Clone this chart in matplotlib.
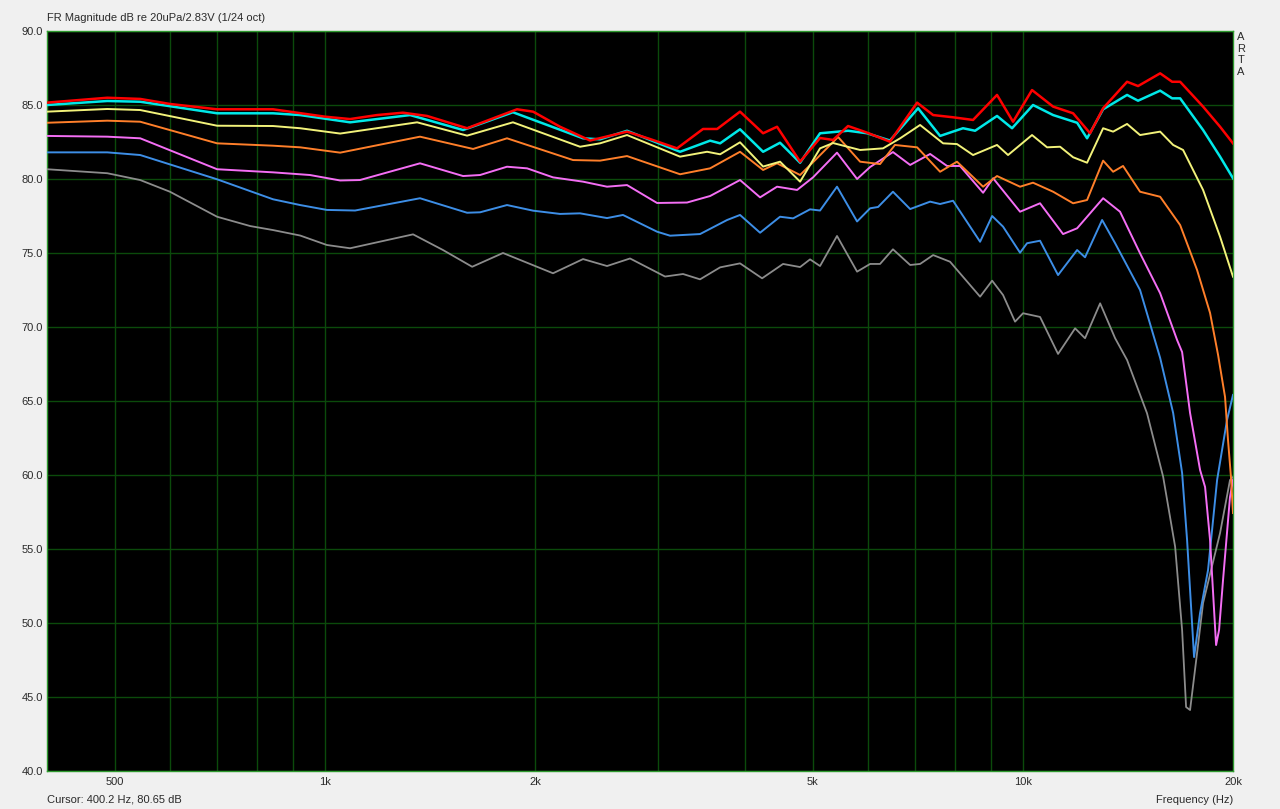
import numpy as np
import matplotlib.pyplot as plt
from matplotlib.ticker import FixedLocator, NullFormatter

# frequency response curves (Hz, dB)
red_f = [400, 488, 544, 600, 701, 843, 1001, 1087, 1188, 1294, 1401, 1599, 1885, 1988, 2173, 2399, 2710, 2924,
         3196, 3482, 3648, 3934, 4245, 4445, 4796, 5122, 5347, 5618, 5982, 6451, 7055, 7438, 7943, 8485, 9183,
         9682, 10307, 11050, 11802, 12482, 13031, 14102, 14622, 15728, 16361, 16799, 18120, 19165, 20000]
red_db = [85.16, 85.49, 85.41, 85.07, 84.71, 84.71, 84.21, 84.05, 84.32, 84.48, 84.26, 83.43, 84.71, 84.55, 83.53,
          82.60, 83.20, 82.70, 82.07, 83.38, 83.38, 84.55, 83.09, 83.53, 81.17, 82.77, 82.64, 83.58, 83.13, 82.52,
          85.16, 84.32, 84.17, 83.99, 85.68, 83.87, 86.01, 84.89, 84.44, 83.09, 84.78, 86.57, 86.28, 87.14, 86.57,
          86.57, 84.89, 83.53, 82.41]

cyan_f = [400, 488, 544, 701, 843, 922, 1087, 1325, 1578, 1860, 2344, 2479, 2710, 3228, 3564, 3684, 3934, 4245,
          4489, 4796, 5122, 5618, 5982, 6451, 7078, 7611, 8208, 8542, 9183, 9650, 10341, 11050, 11960, 12359,
          13031, 14102, 14622, 15728, 16361, 16799, 18120, 19165, 20000]
cyan_db = [85.0, 85.27, 85.22, 84.44, 84.44, 84.32, 83.83, 84.32, 83.31, 84.51, 82.75, 82.68, 83.26, 81.84, 82.59,
           82.41, 83.36, 81.84, 82.45, 81.10, 83.09, 83.26, 83.09, 82.60, 84.78, 82.91, 83.43, 83.26, 84.26, 83.43,
           85.0, 84.32, 83.80, 82.75, 84.71, 85.68, 85.29, 85.97, 85.45, 85.45, 83.31, 81.51, 80.05]

yellow_f = [400, 488, 544, 701, 843, 922, 1052, 1356, 1599, 1860, 2321, 2479, 2710, 3228, 3529, 3684, 3934, 4245,
            4489, 4796, 5122, 5347, 5846, 6305, 6671, 7125, 7687, 8047, 8485, 9183, 9523, 10307, 10831, 11306,
            11802, 12359, 13031, 13468, 14102, 14719, 15728, 16417, 16964, 18120, 19165, 20000]
yellow_db = [84.55, 84.73, 84.66, 83.60, 83.58, 83.43, 83.07, 83.83, 82.93, 83.83, 82.18, 82.41, 82.97, 81.51, 81.84,
             81.67, 82.48, 80.84, 81.17, 79.82, 82.07, 82.43, 81.96, 82.07, 82.75, 83.65, 82.41, 82.36, 81.62, 82.30,
             81.62, 82.97, 82.14, 82.18, 81.47, 81.10, 83.43, 83.20, 83.72, 82.97, 83.20, 82.30, 81.96, 79.26, 76.10,
             73.40]

orange_f = [400, 488, 544, 701, 843, 922, 1052, 1369, 1631, 1824, 2268, 2479, 2710, 3228, 3564, 3934, 4245, 4445,
            4796, 5071, 5436, 5846, 6243, 6558, 7055, 7611, 8047, 8771, 9183, 9908, 10341, 11050, 11802, 12359,
            13031, 13468, 13916, 14719, 15728, 16799, 17765, 18542, 19040, 19482, 19674, 19867, 20000]
orange_db = [83.80, 83.94, 83.87, 82.41, 82.25, 82.14, 81.78, 82.86, 82.03, 82.75, 81.28, 81.24, 81.55, 80.32, 80.72,
             81.84, 80.61, 81.06, 80.27, 81.40, 82.84, 81.17, 81.01, 82.30, 82.14, 80.49, 81.17, 79.48, 80.20, 79.48,
             79.75, 79.14, 78.36, 78.58, 81.24, 80.49, 80.88, 79.14, 78.80, 76.89, 73.85, 70.95, 68.11, 65.27, 62.36,
             59.86, 57.43]

pink_f = [400, 488, 544, 701, 843, 952, 1052, 1123, 1369, 1578, 1669, 1824, 1949, 2123, 2344, 2537, 2710, 2992,
          3303, 3564, 3934, 4203, 4445, 4749, 5005, 5417, 5788, 6042, 6515, 6895, 7365, 7787, 8128, 8771, 9066,
          9908, 10583, 11418, 11960, 13031, 13778, 14719, 15728, 16632, 16909, 17359, 17942, 18240, 18542, 18915,
          19102, 19354, 19803, 20000]
pink_db = [82.91, 82.86, 82.75, 80.66, 80.45, 80.27, 79.90, 79.93, 81.06, 80.20, 80.27, 80.83, 80.72, 80.11, 79.82,
           79.48, 79.59, 78.38, 78.41, 78.85, 79.93, 78.76, 79.48, 79.26, 80.11, 81.78, 80.00, 80.81, 81.82, 80.95,
           81.69, 80.88, 80.88, 79.07, 80.05, 77.79, 78.36, 76.28, 76.67, 78.70, 77.79, 74.98, 72.28, 69.12, 68.31,
           64.19, 60.34, 59.19, 55.61, 48.51, 49.53, 52.91, 58.51, 59.66]

blue_f = [400, 488, 544, 701, 843, 922, 1007, 1105, 1369, 1599, 1669, 1824, 1988, 2173, 2321, 2537, 2674, 2992,
          3123, 3448, 3770, 3934, 4203, 4489, 4687, 4956, 5122, 5417, 5788, 6042, 6203, 6515, 6895, 7365, 7611,
          7943, 8684, 9036, 9368, 9908, 10139, 10583, 11231, 11960, 12276, 12988, 13557, 14719, 15728, 16417,
          16909, 17189, 17590, 17942, 18420, 18978, 19610, 20000]
blue_db = [81.80, 81.80, 81.62, 79.98, 78.63, 78.24, 77.91, 77.87, 78.70, 77.72, 77.75, 78.24, 77.86, 77.64, 77.68,
           77.36, 77.57, 76.44, 76.17, 76.28, 77.23, 77.57, 76.37, 77.45, 77.34, 77.95, 77.87, 79.48, 77.13, 78.02,
           78.11, 79.14, 77.97, 78.47, 78.31, 78.53, 75.76, 77.50, 76.78, 75.02, 75.66, 75.83, 73.51, 75.20, 74.71,
           77.23, 75.66, 72.50, 67.91, 64.19, 60.14, 55.61, 47.70, 50.68, 53.58, 59.66, 63.72, 65.41]

gray_f = [400, 488, 544, 600, 701, 782, 843, 922, 1007, 1087, 1338, 1477, 1626, 1800, 2123, 2344, 2537, 2737, 3072,
          3260, 3448, 3684, 3934, 4231, 4534, 4796, 4956, 5122, 5417, 5788, 6042, 6243, 6515, 6895, 7125, 7438,
          7865, 8684, 9036, 9368, 9746, 10006, 10583, 11231, 11881, 12276, 12903, 13557, 14102, 15062, 15883,
          16524, 16909, 17133, 17359, 17765, 18120, 19165, 19803, 20000]
gray_db = [80.66, 80.39, 79.93, 79.14, 77.45, 76.82, 76.55, 76.18, 75.54, 75.32, 76.26, 75.20, 74.07, 75.00, 73.63,
           74.59, 74.12, 74.63, 73.41, 73.58, 73.22, 74.03, 74.30, 73.29, 74.26, 74.05, 74.57, 74.12, 76.15, 73.74,
           74.26, 74.26, 75.25, 74.19, 74.26, 74.86, 74.41, 72.05, 73.13, 72.16, 70.36, 70.93, 70.68, 68.18, 69.91,
           69.24, 71.60, 69.24, 67.77, 64.17, 59.89, 55.16, 49.53, 44.32, 44.12, 47.97, 51.35, 56.08, 59.66, 59.86]

x_ticks = [500, 1000, 2000, 5000, 10000, 20000]
x_labels = ["500", "1k", "2k", "5k", "10k", "20k"]
grid_f = [500, 600, 700, 800, 900, 1000, 2000, 3000, 4000, 5000, 6000, 7000, 8000, 9000, 10000]
y_ticks = np.arange(40, 91, 5)

plt.rcParams['font.family'] = ['Liberation Sans', 'DejaVu Sans']
txt = '#2a2a2a'

fig = plt.figure(figsize=(12.8, 8.09), dpi=100)
fig.set_facecolor('#f0f0f0')
ax = fig.add_axes([47 / 1280, 1 - 771 / 809, 1186 / 1280, 740 / 809])
ax.set_facecolor('black')
ax.set_xscale('log')
ax.set_xlim(400, 20000)
ax.set_ylim(40, 90)

for gf in grid_f:
    ax.axvline(gf, color='#0b4a0b', lw=1, zorder=1)
for gy in y_ticks:
    ax.axhline(gy, color='#0b4a0b', lw=1, zorder=1)

curves = [
    (gray_f, gray_db, '#8c8c8c', 1.3),
    (blue_f, blue_db, '#3d8ee6', 1.4),
    (pink_f, pink_db, '#f46ef4', 1.4),
    (orange_f, orange_db, '#ff7f2a', 1.4),
    (yellow_f, yellow_db, '#f2f27a', 1.4),
    (cyan_f, cyan_db, '#00e8e8', 1.8),
    (red_f, red_db, '#ff0000', 1.8),
]
for f, db, c, lw in curves:
    ax.plot(f, db, color=c, lw=lw, zorder=3, solid_joinstyle='round')

ax.xaxis.set_major_locator(FixedLocator(x_ticks))
ax.xaxis.set_minor_locator(FixedLocator([]))
ax.xaxis.set_minor_formatter(NullFormatter())
ax.set_xticklabels(x_labels)
ax.set_yticks(y_ticks)
ax.set_yticklabels([f"{v:.1f}" for v in y_ticks])
ax.tick_params(axis='both', length=0, labelsize=8, colors=txt, pad=4)
ax.tick_params(axis='y', pad=3)

for s in ax.spines.values():
    s.set_color('#2f9a2f')
    s.set_linewidth(1)

fig.text(47 / 1280, 1 - 18 / 809, "FR Magnitude dB re 20uPa/2.83V (1/24 oct)", fontsize=8, color=txt,
         ha='left', va='center')
fig.text(47 / 1280, 1 - 800 / 809, "Cursor: 400.2 Hz, 80.65 dB", fontsize=8, color=txt, ha='left', va='center')
fig.text(1233 / 1280, 1 - 800 / 809, "Frequency (Hz)", fontsize=8, color=txt, ha='right', va='center')
fig.text(1241 / 1280, 1 - 32 / 809, "A\nR\nT\nA", fontsize=8, color=txt, ha='center', va='top', linespacing=1.2)

fig.savefig("out.png", dpi=100, facecolor=fig.get_facecolor())
